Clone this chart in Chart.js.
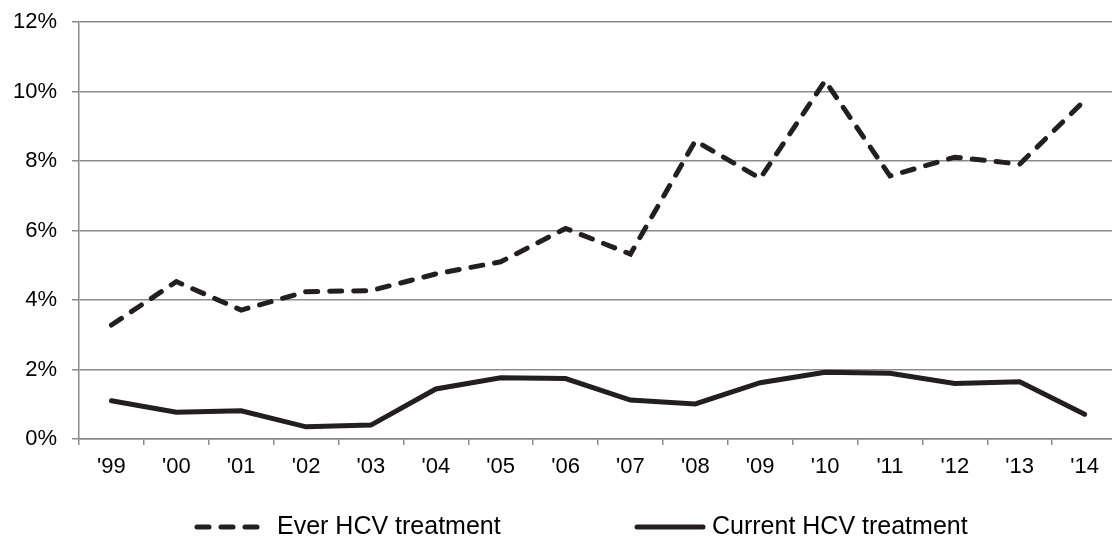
<html>
<head>
    <title>HCV treatment</title>
    <script src="https://cdn.jsdelivr.net/npm/chart.js@4.4.1/dist/chart.umd.min.js"></script>
    <style>
        body { margin: 0; overflow: hidden; background: #fff; }
        #wrap { width: 1118px; height: 541px; position: relative; }
    </style>
</head>
<body>

<div id="wrap">
    <canvas id="myChart"></canvas>
</div>

<script type="text/javascript">
var years = ["'99", "'00", "'01", "'02", "'03", "'04", "'05", "'06", "'07", "'08", "'09", "'10", "'11", "'12", "'13", "'14"]
var everTreatment = [3.28, 4.53, 3.71, 4.24, 4.27, 4.75, 5.10, 6.06, 5.32, 8.58, 7.50, 10.31, 7.57, 8.11, 7.91, 9.74]
var currentTreatment = [1.10, 0.77, 0.81, 0.35, 0.40, 1.44, 1.76, 1.74, 1.12, 1.01, 1.62, 1.92, 1.89, 1.60, 1.65, 0.71]
var yTicks = [0, 2, 4, 6, 8, 10, 12]

var ink = '#231f20'
var gray = '#8a8a8a'
var fontFamily = "'Liberation Sans', Arial, sans-serif"

// legend drawn by hand so the two entries sit where the original has them
var bottomKey = {
    id: 'bottomKey',
    afterDraw: function(chart) {
        var ctx = chart.ctx
        var y = chart.height - 14
        var spots = [
            { x0: 197, x1: 258, tx: 277 },
            { x0: 637, x1: 703, tx: 712 }
        ]
        ctx.save()
        chart.data.datasets.forEach(function(ds, i) {
            var s = spots[i]
            ctx.beginPath()
            ctx.strokeStyle = ds.borderColor
            ctx.lineWidth = ds.borderWidth
            ctx.lineCap = 'round'
            ctx.setLineDash(ds.borderDash || [])
            ctx.moveTo(s.x0, y)
            ctx.lineTo(s.x1, y)
            ctx.stroke()
            ctx.setLineDash([])
            ctx.fillStyle = '#000'
            ctx.font = '25px ' + fontFamily
            ctx.textBaseline = 'middle'
            ctx.textAlign = 'left'
            ctx.fillText(ds.label, s.tx, y)
        })
        ctx.restore()
    }
}

var ctx = document.getElementById("myChart")
var chart = new Chart(ctx, {
    type: 'line',
    data: {
        labels: years,
        datasets: [
            {
                label: 'Ever HCV treatment',
                data: everTreatment,
                borderColor: ink,
                borderWidth: 5,
                borderDash: [12, 12],
                borderCapStyle: 'round',
                pointRadius: 0,
                tension: 0
            },
            {
                label: 'Current HCV treatment',
                data: currentTreatment,
                borderColor: ink,
                borderWidth: 5,
                borderCapStyle: 'round',
                pointRadius: 0,
                tension: 0
            }
        ]
    },
    options: {
        responsive: true,
        maintainAspectRatio: false,
        animation: false,
        layout: { padding: { top: 22, right: 1, bottom: 57, left: 0 } },
        plugins: {
            legend: { display: false },
            tooltip: { enabled: false }
        },
        scales: {
            x: {
                offset: true,
                grid: {
                    offset: true,
                    drawOnChartArea: false,
                    drawTicks: true,
                    tickLength: 6,
                    color: gray,
                    lineWidth: 1.5
                },
                border: { display: true, color: gray, width: 1.5 },
                ticks: {
                    color: '#000',
                    padding: 9,
                    maxRotation: 0,
                    autoSkip: false,
                    font: { family: fontFamily, size: 22 }
                },
                afterFit: function(scale) {
                    scale.height = 45
                    scale.paddingLeft = 0
                    scale.paddingRight = 0
                }
            },
            y: {
                min: 0,
                max: 12,
                afterBuildTicks: function(scale) {
                    scale.ticks = yTicks.map(function(v) { return { value: v } })
                },
                grid: {
                    color: gray,
                    lineWidth: 1.5,
                    drawTicks: true,
                    tickLength: 7
                },
                border: { display: true, color: gray, width: 1.5 },
                ticks: {
                    color: '#000',
                    padding: 15,
                    font: { family: fontFamily, size: 22 },
                    callback: function(v) { return v + '%' }
                },
                afterFit: function(scale) {
                    scale.width = 79
                    scale.paddingTop = 0
                    scale.paddingBottom = 0
                }
            }
        }
    },
    plugins: [bottomKey]
})
</script>

</body>
</html>
